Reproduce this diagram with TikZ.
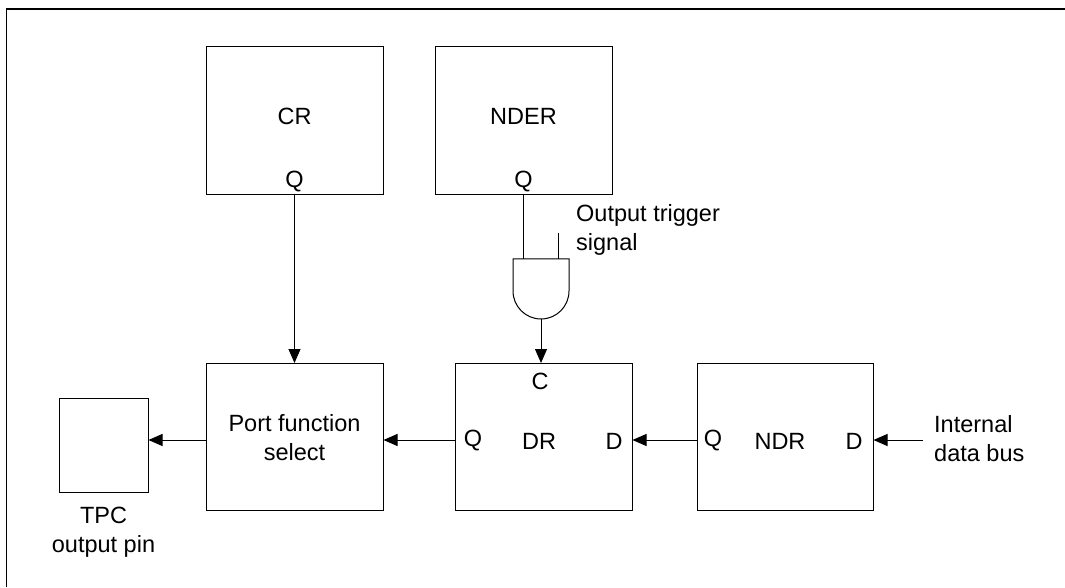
\documentclass[tikz,border=0pt]{standalone}
\usepackage{fontspec}
\setmainfont{Liberation Sans}
\usetikzlibrary{arrows.meta, calc}

\begin{document}
\begin{tikzpicture}[x=1pt, y=1pt,
    reg/.style={draw, line width=1pt, minimum width=177pt, minimum height=147pt, inner sep=0pt},
    lbl/.style={inner sep=0pt, font=\fontsize{23.5}{29}\selectfont, align=center},
    sig/.style={line width=1pt, -{Triangle[length=14pt, width=12pt]}}]
    \useasboundingbox (0,0) rectangle (1065,587);
    % frame
    \draw[line width=1.3pt] (1065,578) -- (6.5,578) -- (6.5,0);
    % register boxes
    \node[reg, minimum height=148pt] (cr) at (294.5,466) {};
    \node[reg, minimum height=148pt] (nder) at (523.5,466) {};
    \node[reg] (port) at (294.5,150) {};
    \node[reg] (dr) at (543.5,150) {};
    \node[reg, minimum width=176pt] (ndr) at (785,150) {};
    \node[reg, minimum width=89pt, minimum height=94pt] (pin) at (103.5,142) {};
    % texts in the boxes
    \node[lbl] (crname) at (294.5,471) {CR};
    \node[lbl] (crq) at (294.5,405) {Q};
    \node[lbl] (ndername) at (523.5,471) {NDER};
    \node[lbl] (nderq) at (523.5,405) {Q};
    \node[lbl] (portname) at (294.5,149) {Port function\\select};
    \node[lbl] (drc) at (540,206) {C};
    \node[lbl] (drq) at (473,146) {Q};
    \node[lbl] (drname) at (539,146) {DR};
    \node[lbl] (drd) at (614,146) {D};
    \node[lbl] (ndrq) at (713,146) {Q};
    \node[lbl] (ndrname) at (780,146) {NDR};
    \node[lbl] (ndrd) at (854,146) {D};
    % outside texts
    \node[lbl, align=left, anchor=west] (trig) at (576,357) {Output trigger\\signal};
    \node[lbl, align=left, anchor=west] (bus) at (934,148) {Internal\\data bus};
    \node[lbl] (pinname) at (103.5,55) {TPC\\output pin};
    % AND gate
    \draw[line width=1pt] (513,328) -- (569,328) -- (569,296) arc[start angle=0, end angle=-180, radius=28] -- cycle;
    \coordinate (in1) at (523.5,328);
    \coordinate (in2) at (558,328);
    \coordinate (trigend) at (558,354);
    \coordinate (gout) at (541,268);
    \coordinate (busend) at (923,147);
    % connections
    \draw[line width=1pt] (nder.south) -- (in1);
    \draw[line width=1pt] (trigend) -- (in2);
    \draw[sig] (gout) -- (gout |- dr.north);
    \draw[sig] (cr.south) -- (port.north);
    \draw[sig] (busend) -- (busend -| ndr.east);
    \draw[sig] ($(ndr.west)+(0,-3)$) -- ($(dr.east)+(0,-3)$);
    \draw[sig] ($(dr.west)+(0,-3)$) -- ($(port.east)+(0,-3)$);
    \draw[sig] ($(port.west)+(0,-3)$) -- (pin.east |- 0,147);
\end{tikzpicture}
\end{document}
